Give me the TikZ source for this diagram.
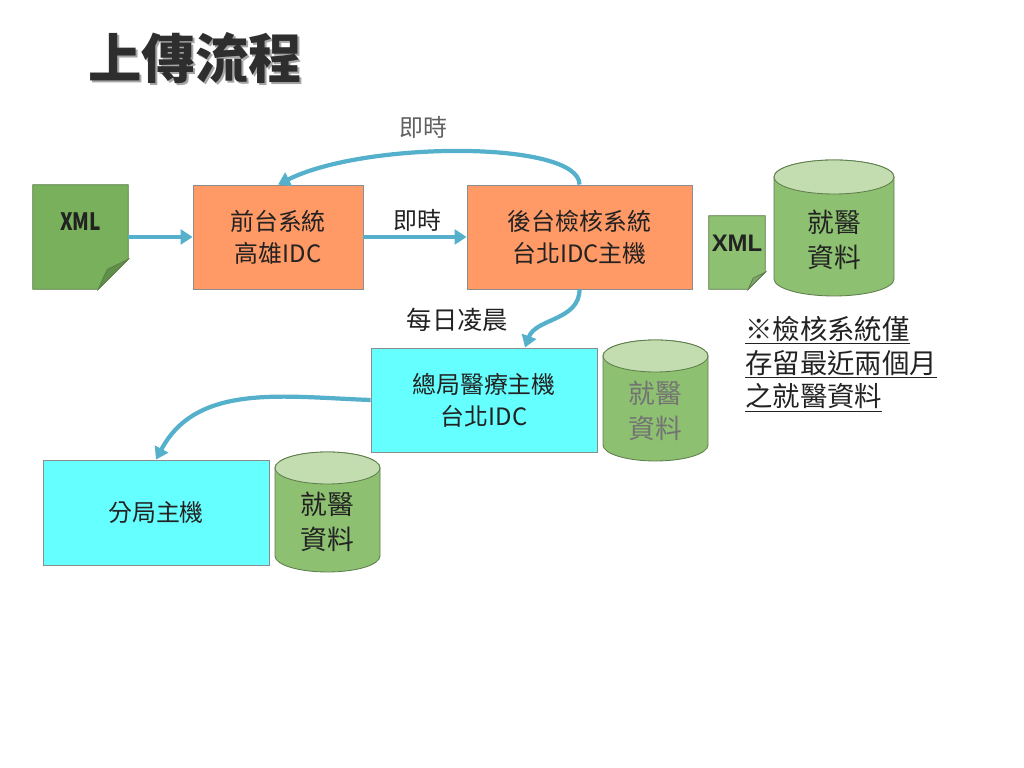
\documentclass[tikz,border=0pt]{standalone}
\usepackage{fontspec}
\setmainfont{Noto Sans CJK TC}
\newfontfamily\arialfont{Liberation Sans}
\usetikzlibrary{arrows.meta, positioning, calc}

\definecolor{orangebox}{HTML}{FF9966}
\definecolor{cyanbox}{HTML}{66FFFF}
\definecolor{boxgray}{HTML}{8C8C8C}
\definecolor{flowblue}{HTML}{55B0CC}
\definecolor{docgreen}{HTML}{79B05C}
\definecolor{foldgreen}{HTML}{5F9048}
\definecolor{cylgreen}{HTML}{8DC071}
\definecolor{cyltop}{HTML}{C3DDB0}
\definecolor{greenline}{HTML}{5E7E4C}
\definecolor{textdark}{HTML}{222222}

\begin{document}
\begin{tikzpicture}[
  box/.style={draw=boxgray, line width=0.6pt, minimum height=2.6cm, align=center,
    text=textdark, font=\fontsize{17}{22.7}\selectfont},
  flow/.style={draw=flowblue, line width=3pt, -{Triangle[length=8.5pt,width=10.5pt]}},
  doc/.style={minimum width=#1, inner sep=0pt},
  docfill/.style={fill=docgreen, draw=greenline, line width=0.6pt},
  cylfill/.style={fill=cylgreen, draw=greenline, line width=0.6pt},
  cyltext/.style={align=center, text=textdark, font=\fontsize{19}{25}\selectfont},
  labeltext/.style={text=textdark, font=\fontsize{17}{20}\selectfont}
]
\fill[white] (0,0) rectangle (25.6,19.2);
\useasboundingbox (0,0) rectangle (25.6,19.2);

% title
\node[text=black!35, font=\fontsize{38}{40}\selectfont\bfseries] at (4.93,17.7) {上傳流程};
\node[text=black!82, font=\fontsize{38}{40}\selectfont\bfseries] (title) at (4.875,17.75) {上傳流程};

% xml files
\node[doc=2.375cm, minimum height=2.6cm] (xml1) at (2.0125,13.275) {};
\filldraw[docfill] (xml1.north west) -- (xml1.north east) -- ([yshift=0.75cm]xml1.south east)
  -- ([xshift=-0.75cm]xml1.south east) -- (xml1.south west) -- cycle;
\filldraw[fill=foldgreen, draw=greenline, line width=0.6pt] ([xshift=-0.75cm]xml1.south east)
  .. controls ([xshift=-0.62cm,yshift=0.3cm]xml1.south east) .. ([xshift=-0.52cm,yshift=0.5cm]xml1.south east)
  -- ([yshift=0.75cm]xml1.south east) -- cycle;
\node[text=textdark, font=\fontsize{17}{19}\selectfont\bfseries, xscale=0.8] (xmltxt1) at ([yshift=0.375cm]xml1.center) {XML};

\node[doc=1.4cm, minimum height=1.825cm] (xml2) at (18.425,12.8875) {};
\filldraw[cylfill] (xml2.north west) -- (xml2.north east) -- ([yshift=0.425cm]xml2.south east)
  -- ([xshift=-0.425cm]xml2.south east) -- (xml2.south west) -- cycle;
\filldraw[fill=foldgreen!80, draw=greenline, line width=0.6pt] ([xshift=-0.425cm]xml2.south east)
  .. controls ([xshift=-0.35cm,yshift=0.18cm]xml2.south east) .. ([xshift=-0.3cm,yshift=0.28cm]xml2.south east)
  -- ([yshift=0.425cm]xml2.south east) -- cycle;
\node[text=textdark, font=\arialfont\bfseries\fontsize{17}{19}\selectfont] (xmltxt2) at ([yshift=0.225cm]xml2.center) {XML};

% hosts
\node[box, fill=orangebox, minimum width=4.25cm] (qiantai) at (6.95,13.275) {前台系統\\高雄IDC};
\node[box, fill=orangebox, minimum width=5.625cm] (houtai) at (14.4875,13.275) {後台檢核系統\\台北IDC主機};
\node[box, fill=cyanbox, minimum width=5.65cm] (zongju) at (12.1,9.2) {總局醫療主機\\台北IDC};
\node[box, fill=cyanbox, minimum width=5.65cm, minimum height=2.625cm] (fenju) at (3.9,6.3875) {分局主機};

% databases
\filldraw[cylfill] (19.35,14.775) -- (19.35,12.225) arc[start angle=180, end angle=360, x radius=1.5, y radius=0.425]
  -- (22.35,14.775) arc[start angle=0, end angle=180, x radius=1.5, y radius=0.425] -- cycle;
\filldraw[fill=cyltop, draw=greenline, line width=0.6pt] (20.85,14.775) ellipse [x radius=1.5, y radius=0.425];
\node[cyltext] (dataA) at (20.85,13.2125) {就醫\\資料};

\filldraw[cylfill] (15.075,10.3) -- (15.075,8.075) arc[start angle=180, end angle=360, x radius=1.3125, y radius=0.4]
  -- (17.7,10.3) arc[start angle=0, end angle=180, x radius=1.3125, y radius=0.4] -- cycle;
\filldraw[fill=cyltop, draw=greenline, line width=0.6pt] (16.3875,10.3) ellipse [x radius=1.3125, y radius=0.4];
\node[cyltext, text=black!55] (dataB) at (16.3875,8.9375) {就醫\\資料};

\filldraw[cylfill] (6.875,7.5) -- (6.875,5.3) arc[start angle=180, end angle=360, x radius=1.3125, y radius=0.4]
  -- (9.5,7.5) arc[start angle=0, end angle=180, x radius=1.3125, y radius=0.4] -- cycle;
\filldraw[fill=cyltop, draw=greenline, line width=0.6pt] (8.1875,7.5) ellipse [x radius=1.3125, y radius=0.4];
\node[cyltext] (dataC) at (8.1875,6.1625) {就醫\\資料};

% flows
\draw[flow] (xml1.east) -- (qiantai.west);
\draw[flow] (qiantai.east) -- (houtai.west);
\draw[flow] (houtai.north) .. controls ([yshift=1.1cm]houtai.north) and ([xshift=2.2cm,yshift=1.1cm]qiantai.north) .. (qiantai.north);
\draw[flow] (houtai.south) to[out=-90, in=70] ([xshift=1.025cm]zongju.north);
\draw[flow] (zongju.west) to[out=178, in=62] (fenju.north);

\node[labeltext] (now1) at (10.425,13.7) {即時};
\node[labeltext, text=black!62] (now2) at (10.575,16.025) {即時};
\node[labeltext, font=\fontsize{18}{20}\selectfont] (daily) at (11.4375,11.2) {每日凌晨};

% note
\node[anchor=west, align=left, text=textdark, font=\fontsize{19.5}{24}\selectfont, inner sep=0pt] (note) at (18.625,10.1)
  {\underline{※檢核系統僅}\\\underline{存留最近兩個月}\\\underline{之就醫資料}};
\end{tikzpicture}
\end{document}
